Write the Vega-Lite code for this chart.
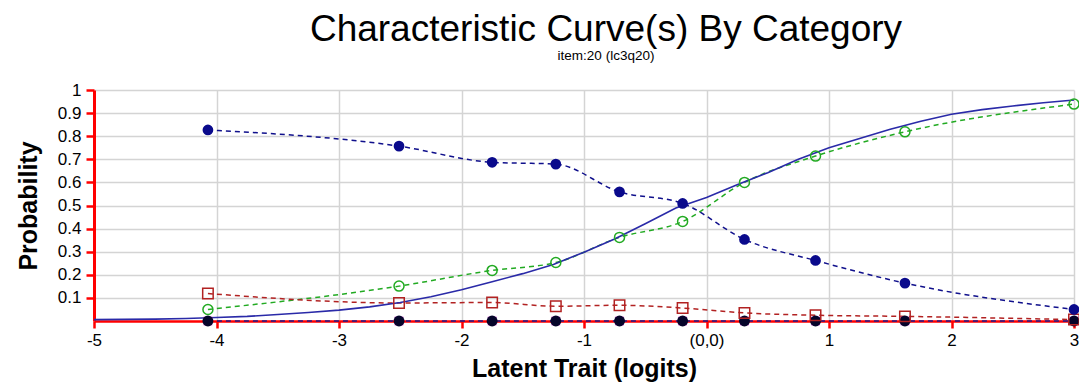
{
  "$schema": "https://vega.github.io/schema/vega-lite/v6.json",
  "width": 980,
  "height": 231,
  "autosize": {"type": "none"},
  "padding": {"left": 94, "top": 90, "right": 5, "bottom": 65},
  "background": "white",
  "config": {"view": {"stroke": null}, "font": "Liberation Sans"},
  "title": {
    "text": "Characteristic Curve(s) By Category",
    "subtitle": "item:20 (lc3q20)",
    "fontSize": 37,
    "fontWeight": "normal",
    "font": "Liberation Sans",
    "subtitleFont": "Liberation Sans",
    "subtitleFontSize": 13.5,
    "subtitlePadding": 0,
    "anchor": "middle",
    "dx": 22,
    "offset": 18,
    "color": "black",
    "subtitleColor": "black"
  },
  "datasets": {
    "model": [
      {"x": -5, "p": 0.006}, {"x": -4.75, "p": 0.007}, {"x": -4.5, "p": 0.008}, {"x": -4.25, "p": 0.011},
      {"x": -4, "p": 0.015}, {"x": -3.75, "p": 0.02}, {"x": -3.5, "p": 0.028}, {"x": -3.25, "p": 0.037},
      {"x": -3, "p": 0.047}, {"x": -2.75, "p": 0.061}, {"x": -2.5, "p": 0.08}, {"x": -2.25, "p": 0.105},
      {"x": -2, "p": 0.135}, {"x": -1.75, "p": 0.17}, {"x": -1.5, "p": 0.205}, {"x": -1.25, "p": 0.245},
      {"x": -1, "p": 0.298}, {"x": -0.75, "p": 0.355}, {"x": -0.5, "p": 0.421}, {"x": -0.25, "p": 0.489},
      {"x": 0, "p": 0.535}, {"x": 0.25, "p": 0.59}, {"x": 0.5, "p": 0.642}, {"x": 0.75, "p": 0.7},
      {"x": 1, "p": 0.75}, {"x": 1.25, "p": 0.79}, {"x": 1.5, "p": 0.83}, {"x": 1.75, "p": 0.865},
      {"x": 2, "p": 0.895}, {"x": 2.25, "p": 0.915}, {"x": 2.5, "p": 0.931}, {"x": 2.75, "p": 0.945},
      {"x": 3, "p": 0.957}
    ],
    "obs": [
      {"cat": "c1", "x": -4.07, "p": 0.827}, {"cat": "c1", "x": -2.51, "p": 0.757}, {"cat": "c1", "x": -1.75, "p": 0.687},
      {"cat": "c1", "x": -1.23, "p": 0.679}, {"cat": "c1", "x": -0.71, "p": 0.559}, {"cat": "c1", "x": -0.195, "p": 0.509},
      {"cat": "c1", "x": 0.31, "p": 0.353}, {"cat": "c1", "x": 0.89, "p": 0.262}, {"cat": "c1", "x": 1.62, "p": 0.164},
      {"cat": "c1", "x": 3.0, "p": 0.05},
      {"cat": "c2", "x": -4.07, "p": 0.05}, {"cat": "c2", "x": -2.51, "p": 0.151}, {"cat": "c2", "x": -1.75, "p": 0.219},
      {"cat": "c2", "x": -1.23, "p": 0.253}, {"cat": "c2", "x": -0.71, "p": 0.362}, {"cat": "c2", "x": -0.195, "p": 0.431},
      {"cat": "c2", "x": 0.31, "p": 0.6}, {"cat": "c2", "x": 0.89, "p": 0.714}, {"cat": "c2", "x": 1.62, "p": 0.819},
      {"cat": "c2", "x": 3.0, "p": 0.939},
      {"cat": "c3", "x": -4.07, "p": 0.119}, {"cat": "c3", "x": -2.51, "p": 0.078}, {"cat": "c3", "x": -1.75, "p": 0.08},
      {"cat": "c3", "x": -1.23, "p": 0.064}, {"cat": "c3", "x": -0.71, "p": 0.068}, {"cat": "c3", "x": -0.195, "p": 0.056},
      {"cat": "c3", "x": 0.31, "p": 0.035}, {"cat": "c3", "x": 0.89, "p": 0.025}, {"cat": "c3", "x": 1.62, "p": 0.02},
      {"cat": "c3", "x": 3.0, "p": 0.006},
      {"cat": "c0", "x": -4.07, "p": 0}, {"cat": "c0", "x": -2.51, "p": 0}, {"cat": "c0", "x": -1.75, "p": 0},
      {"cat": "c0", "x": -1.23, "p": 0}, {"cat": "c0", "x": -0.71, "p": 0}, {"cat": "c0", "x": -0.195, "p": 0},
      {"cat": "c0", "x": 0.31, "p": 0}, {"cat": "c0", "x": 0.89, "p": 0}, {"cat": "c0", "x": 1.62, "p": 0},
      {"cat": "c0", "x": 3.0, "p": 0}
    ]
  },
  "encoding": {
    "x": {
      "field": "x", "type": "quantitative",
      "scale": {"domain": [-5, 3], "nice": false, "zero": false},
      "axis": {
        "title": "Latent Trait (logits)",
        "values": [-5, -4, -3, -2, -1, 0, 1, 2, 3],
        "labelExpr": "datum.value == 0 ? '(0,0)' : '' + datum.value",
        "domainColor": "#ff0000", "domainWidth": 2.5,
        "tickColor": "#ff0000", "tickWidth": 2.5, "tickSize": 7,
        "gridColor": "#d4d4d4", "gridWidth": 1.5,
        "labelFontSize": 17, "labelColor": "black", "labelPadding": 4, "labelFlush": false,
        "titleFontSize": 25, "titleFontWeight": "bold", "titleColor": "black", "titlePadding": 8
      }
    },
    "y": {
      "field": "p", "type": "quantitative",
      "scale": {"domain": [0, 1], "nice": false},
      "axis": {
        "title": "Probability",
        "values": [0.1, 0.2, 0.3, 0.4, 0.5, 0.6, 0.7, 0.8, 0.9, 1],
        "labelExpr": "'' + datum.value",
        "domainColor": "#ff0000", "domainWidth": 3,
        "tickColor": "#ff0000", "tickWidth": 2.5, "tickSize": 8,
        "gridColor": "#d4d4d4", "gridWidth": 1.5,
        "labelFontSize": 17, "labelColor": "black", "labelPadding": 5,
        "titleFontSize": 25, "titleFontWeight": "bold", "titleColor": "black", "titlePadding": 16
      }
    }
  },
  "layer": [
    {
      "data": {"name": "obs"},
      "mark": {"type": "line", "strokeDash": [5, 4], "strokeWidth": 1.5, "interpolate": "monotone"},
      "encoding": {
        "detail": {"field": "cat"},
        "color": {"field": "cat", "type": "nominal", "legend": null,
          "scale": {"domain": ["c3", "c2", "c1", "c0"], "range": ["#b22222", "#22aa22", "#10108c", "#1a1a8c"]}},
        "order": {"field": "x", "type": "quantitative"}
      }
    },
    {
      "data": {"name": "model"},
      "mark": {"type": "line", "color": "#2a2aa8", "strokeWidth": 1.6},
      "encoding": {}
    },
    {
      "data": {"name": "obs"},
      "transform": [{"filter": "datum.cat == 'c0'"}],
      "mark": {"type": "point", "shape": "square", "filled": true, "color": "#cc33cc", "size": 75, "opacity": 1},
      "encoding": {}
    },
    {
      "data": {"name": "obs"},
      "transform": [{"filter": "datum.cat == 'c0'"}],
      "mark": {"type": "circle", "color": "#05052a", "size": 120, "opacity": 1},
      "encoding": {}
    },
    {
      "data": {"name": "obs"},
      "transform": [{"filter": "datum.cat == 'c3'"}],
      "mark": {"type": "point", "shape": "square", "filled": false, "color": "#b22222", "size": 110, "strokeWidth": 1.5, "opacity": 1},
      "encoding": {}
    },
    {
      "data": {"name": "obs"},
      "transform": [{"filter": "datum.cat == 'c2'"}],
      "mark": {"type": "point", "shape": "circle", "filled": false, "color": "#22aa22", "size": 100, "strokeWidth": 1.5, "opacity": 1},
      "encoding": {}
    },
    {
      "data": {"name": "obs"},
      "transform": [{"filter": "datum.cat == 'c1'"}],
      "mark": {"type": "circle", "color": "#0a0a8c", "size": 115, "opacity": 1},
      "encoding": {}
    }
  ]
}
